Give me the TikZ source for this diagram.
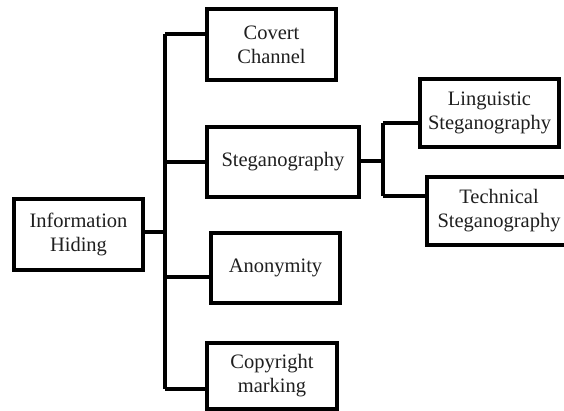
\documentclass[tikz,border=0pt]{standalone}
\usepackage{fontspec}
\setmainfont{Liberation Serif}
\begin{document}
\begin{tikzpicture}[x=1pt,y=-1pt,
  boxtext/.style={inner sep=0pt,align=center,font=\fontsize{20.5}{24}\selectfont,text=black!88},
  box/.style={boxtext,draw=black,line width=4.6pt,fill=white},
  conn/.style={draw=black,line width=4.4pt}]
\useasboundingbox[fill=white] (0,0) rectangle (564,411);
% nodes
\node[box,minimum width=129pt,minimum height=71pt] (ih) at (78.5,234.5) {Information\\Hiding};
\node[box,minimum width=129pt,minimum height=71pt] (cc) at (271.5,44.5) {Covert\\Channel};
\node[box,minimum width=152pt,minimum height=70pt] (st) at (283,162) {Steganography};
\node[box,minimum width=129pt,minimum height=70pt] (an) at (275.5,268) {Anonymity};
\node[box,minimum width=130pt,minimum height=66pt] (cm) at (272,376) {Copyright\\marking};
\node[box,minimum width=139pt,minimum height=68pt] (ls) at (489.5,113) {Linguistic\\Steganography};
\node[box,minimum width=170pt,minimum height=68pt,
  label={[boxtext,xshift=-13pt]center:{Technical\\Steganography}}] (ts) at (512,211) {};
% trunk coordinates
\coordinate (t1) at (165,34);
\coordinate (t2) at (165,162);
\coordinate (t0) at (165,232);
\coordinate (t3) at (165,277);
\coordinate (t4) at (165,389);
\coordinate (s0) at (383,161);
\coordinate (s1) at (383,123);
\coordinate (s2) at (383,196);
% connectors
\draw[conn] (t1) -- (t4);
\draw[conn] (ih.east |- t0) -- (t0);
\draw[conn] (t1) -- (t1 -| cc.west);
\draw[conn] (t2) -- (t2 -| st.west);
\draw[conn] (t3) -- (t3 -| an.west);
\draw[conn] (t4) -- (t4 -| cm.west);
\draw[conn] (st.east |- s0) -- (s0);
\draw[conn] (s1) -- (s2);
\draw[conn] (s1) -- (s1 -| ls.west);
\draw[conn] (s2) -- (s2 -| ts.west);
\end{tikzpicture}
\end{document}
